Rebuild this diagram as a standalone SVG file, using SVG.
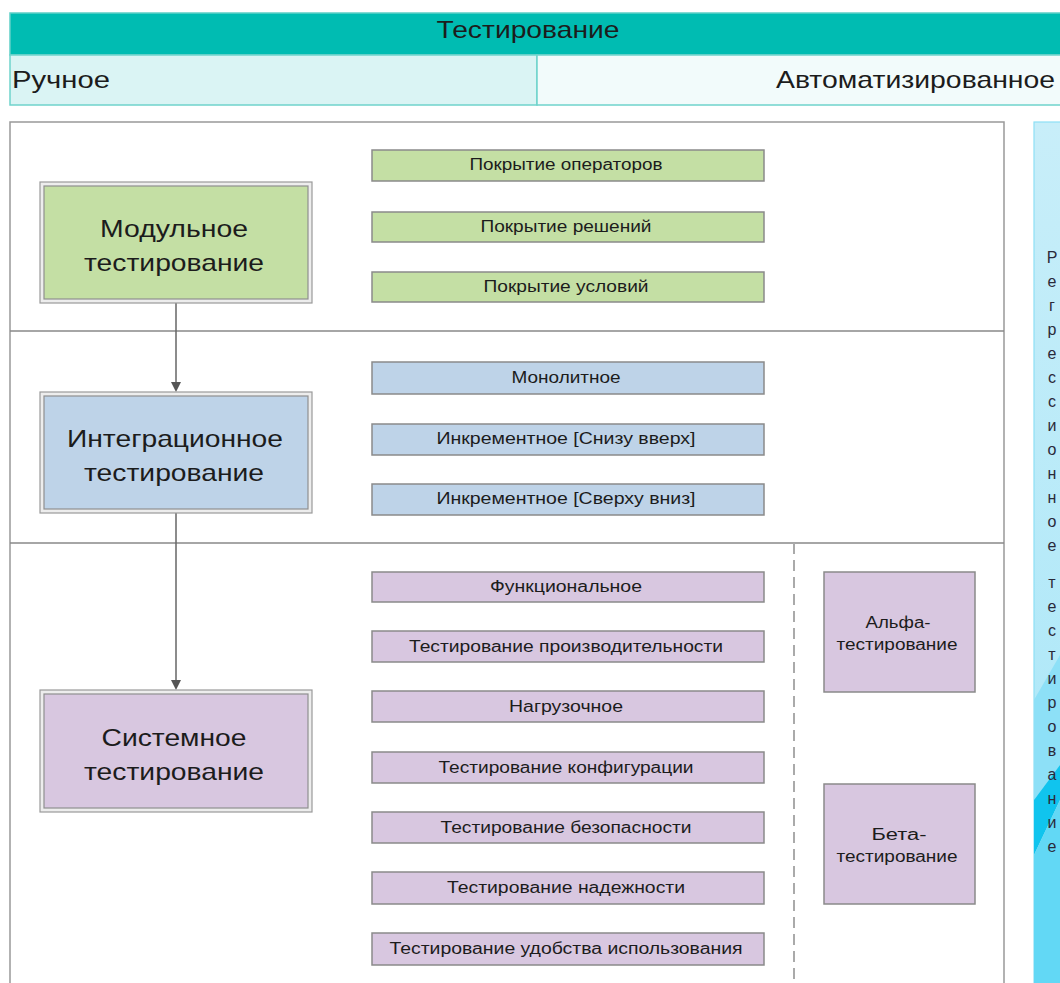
<svg xmlns="http://www.w3.org/2000/svg" width="1060" height="983" viewBox="0 0 1060 983">
<style>
text{font-family:"Liberation Sans",Arial,sans-serif;fill:#1c1c1c}
.hdr{font-size:24px}
.big{font-size:24px;text-anchor:middle}
.sm{font-size:16px;text-anchor:middle}
.vl{font-size:16px;text-anchor:middle;fill:#2a2a3a}
.box{stroke:#8a8a8a;stroke-width:1.5}
.g{fill:#C4DFA4}.b{fill:#BED3E8}.p{fill:#D8C7E0}
.outer{fill:#ededed;stroke:#9a9a9a;stroke-width:1.2}
.inner{stroke:#8f8f8f;stroke-width:1.2}
.conn{stroke:#666;stroke-width:1.5;fill:none}
.head{fill:#555}
</style>
<defs>
<linearGradient id="rg" x1="0" y1="122" x2="0" y2="983" gradientUnits="userSpaceOnUse">
<stop offset="0" stop-color="#C8EEF9"/>
<stop offset="1" stop-color="#A6E6F8"/>
</linearGradient>
</defs>
<rect width="1060" height="983" fill="#fff"/>

<g id="header">
<rect x="10" y="13" width="1052" height="42" fill="#00BCB2" stroke="#5FCFC7" stroke-width="1.5"/>
<text class="hdr" x="528" y="38" text-anchor="middle" textLength="183" lengthAdjust="spacingAndGlyphs">Тестирование</text>
</g>
<g id="manual">
<rect x="10" y="55" width="527" height="50" fill="#DAF4F4" stroke="#6FD3CC" stroke-width="1.5"/>
<text class="hdr" x="12" y="88" textLength="98" lengthAdjust="spacingAndGlyphs">Ручное</text>
</g>
<g id="automated">
<rect x="537" y="55" width="525" height="50" fill="#F2FBFB" stroke="#6FD3CC" stroke-width="1.5"/>
<text class="hdr" x="1055" y="88" text-anchor="end" textLength="279" lengthAdjust="spacingAndGlyphs">Автоматизированное</text>
</g>

<g id="frame">
<rect x="10" y="122" width="994" height="870" fill="none" stroke="#999" stroke-width="1.5"/>
<line x1="10" y1="331" x2="1004" y2="331" stroke="#888" stroke-width="1.5"/>
<line x1="10" y1="543" x2="1004" y2="543" stroke="#888" stroke-width="1.5"/>
<line x1="794" y1="543" x2="794" y2="983" stroke="#aaa" stroke-width="2" stroke-dasharray="11,6"/>
</g>

<g id="regression">
<rect x="1034" y="122" width="30" height="870" fill="url(#rg)" stroke="#8EDFF5" stroke-width="1.2"/>
<polygon points="1034,700 1060,655 1060,765 1034,800" fill="#8DE0F7"/>
<polygon points="1034,800 1060,765 1060,800 1034,855" fill="#10C4EE"/>
<polygon points="1034,855 1060,800 1060,983 1034,983" fill="#62D8F5"/>
<text class="vl" x="1052" y="263">Р</text>
<text class="vl" x="1052" y="287">е</text>
<text class="vl" x="1052" y="311">г</text>
<text class="vl" x="1052" y="335">р</text>
<text class="vl" x="1052" y="359">е</text>
<text class="vl" x="1052" y="383">с</text>
<text class="vl" x="1052" y="407">с</text>
<text class="vl" x="1052" y="431">и</text>
<text class="vl" x="1052" y="455">о</text>
<text class="vl" x="1052" y="479">н</text>
<text class="vl" x="1052" y="503">н</text>
<text class="vl" x="1052" y="527">о</text>
<text class="vl" x="1052" y="551">е</text>
<text class="vl" x="1052" y="588">т</text>
<text class="vl" x="1052" y="612">е</text>
<text class="vl" x="1052" y="636">с</text>
<text class="vl" x="1052" y="660">т</text>
<text class="vl" x="1052" y="684">и</text>
<text class="vl" x="1052" y="708">р</text>
<text class="vl" x="1052" y="732">о</text>
<text class="vl" x="1052" y="756">в</text>
<text class="vl" x="1052" y="780">а</text>
<text class="vl" x="1052" y="804">н</text>
<text class="vl" x="1052" y="828">и</text>
<text class="vl" x="1052" y="852">е</text>
</g>

<g id="connectors">
<line class="conn" x1="176" y1="303" x2="176" y2="384"/>
<polygon class="head" points="171,382 181,382 176,392"/>
<line class="conn" x1="176" y1="513" x2="176" y2="682"/>
<polygon class="head" points="171,680 181,680 176,690"/>
</g>

<g id="unit">
<rect class="outer" x="40" y="182" width="272" height="121"/>
<rect class="inner g" x="44" y="186" width="264" height="113"/>
<text class="big" x="174" y="237" textLength="148" lengthAdjust="spacingAndGlyphs">Модульное</text>
<text class="big" x="174" y="271" textLength="180" lengthAdjust="spacingAndGlyphs">тестирование</text>
</g>
<g id="integration">
<rect class="outer" x="40" y="392" width="272" height="121"/>
<rect class="inner b" x="44" y="396" width="264" height="113"/>
<text class="big" x="175" y="447" textLength="216" lengthAdjust="spacingAndGlyphs">Интеграционное</text>
<text class="big" x="174" y="481" textLength="180" lengthAdjust="spacingAndGlyphs">тестирование</text>
</g>
<g id="system">
<rect class="outer" x="40" y="690" width="272" height="122"/>
<rect class="inner p" x="44" y="694" width="264" height="114"/>
<text class="big" x="174" y="746" textLength="145" lengthAdjust="spacingAndGlyphs">Системное</text>
<text class="big" x="174" y="780" textLength="180" lengthAdjust="spacingAndGlyphs">тестирование</text>
</g>

<g id="stmt"><rect class="box g" x="372" y="150" width="392" height="31"/><text class="sm" x="566" y="170" textLength="193" lengthAdjust="spacingAndGlyphs">Покрытие операторов</text></g>
<g id="decision"><rect class="box g" x="372" y="212" width="392" height="30"/><text class="sm" x="566" y="232" textLength="171" lengthAdjust="spacingAndGlyphs">Покрытие решений</text></g>
<g id="condition"><rect class="box g" x="372" y="272" width="392" height="30"/><text class="sm" x="566" y="292" textLength="165" lengthAdjust="spacingAndGlyphs">Покрытие условий</text></g>

<g id="monolith"><rect class="box b" x="372" y="362" width="392" height="32"/><text class="sm" x="566" y="383" textLength="109" lengthAdjust="spacingAndGlyphs">Монолитное</text></g>
<g id="bottomup"><rect class="box b" x="372" y="424" width="392" height="31"/><text class="sm" x="566" y="444" textLength="259" lengthAdjust="spacingAndGlyphs">Инкрементное [Снизу вверх]</text></g>
<g id="topdown"><rect class="box b" x="372" y="484" width="392" height="31"/><text class="sm" x="566" y="504" textLength="259" lengthAdjust="spacingAndGlyphs">Инкрементное [Сверху вниз]</text></g>

<g id="functional"><rect class="box p" x="372" y="572" width="392" height="30"/><text class="sm" x="566" y="592" textLength="152" lengthAdjust="spacingAndGlyphs">Функциональное</text></g>
<g id="performance"><rect class="box p" x="372" y="631" width="392" height="31"/><text class="sm" x="566" y="652" textLength="314" lengthAdjust="spacingAndGlyphs">Тестирование производительности</text></g>
<g id="load"><rect class="box p" x="372" y="691" width="392" height="31"/><text class="sm" x="566" y="712" textLength="114" lengthAdjust="spacingAndGlyphs">Нагрузочное</text></g>
<g id="config"><rect class="box p" x="372" y="752" width="392" height="31"/><text class="sm" x="566" y="773" textLength="255" lengthAdjust="spacingAndGlyphs">Тестирование конфигурации</text></g>
<g id="security"><rect class="box p" x="372" y="812" width="392" height="31"/><text class="sm" x="566" y="833" textLength="251" lengthAdjust="spacingAndGlyphs">Тестирование безопасности</text></g>
<g id="reliability"><rect class="box p" x="372" y="872" width="392" height="32"/><text class="sm" x="566" y="893" textLength="238" lengthAdjust="spacingAndGlyphs">Тестирование надежности</text></g>
<g id="usability"><rect class="box p" x="372" y="933" width="392" height="32"/><text class="sm" x="566" y="954" textLength="353" lengthAdjust="spacingAndGlyphs">Тестирование удобства использования</text></g>

<g id="alpha"><rect class="box p" x="824" y="572" width="151" height="120"/>
<text class="sm" x="898" y="628" textLength="65" lengthAdjust="spacingAndGlyphs">Альфа-</text>
<text class="sm" x="897" y="650" textLength="121" lengthAdjust="spacingAndGlyphs">тестирование</text></g>
<g id="beta"><rect class="box p" x="824" y="784" width="151" height="120"/>
<text class="sm" x="899" y="840" textLength="55" lengthAdjust="spacingAndGlyphs">Бета-</text>
<text class="sm" x="897" y="862" textLength="121" lengthAdjust="spacingAndGlyphs">тестирование</text></g>
</svg>
